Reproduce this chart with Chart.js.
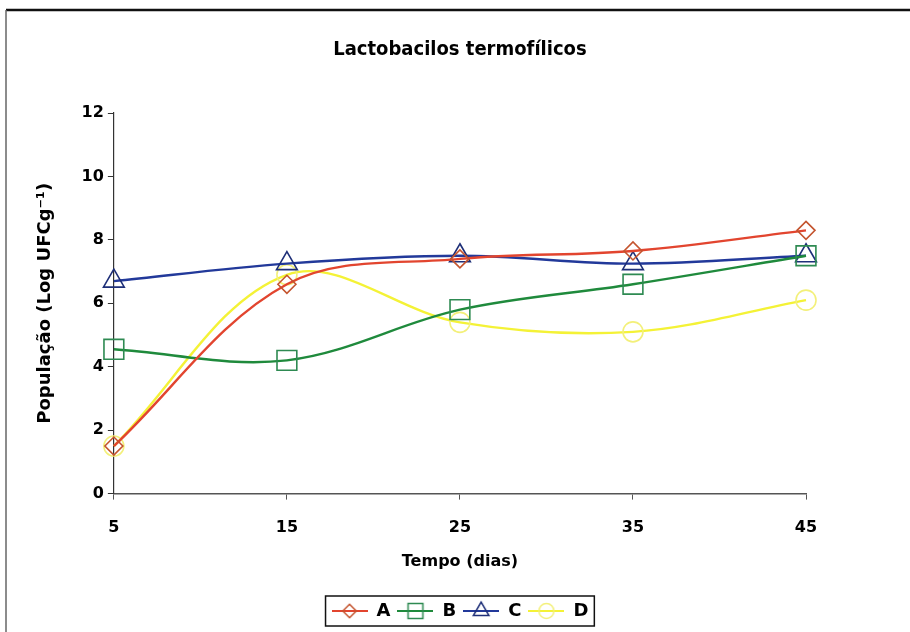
<!DOCTYPE html>
<html>
<head>
<meta charset="utf-8">
<script src="https://cdn.jsdelivr.net/npm/chart.js@4/dist/chart.umd.min.js"></script>
<style>
html,body{margin:0;padding:0;background:#fff;}
#wrap{width:910px;height:632px;position:relative;}
</style>
</head>
<body>
<div id="wrap"><canvas id="c" width="910" height="632"></canvas></div>
<script>
const days = [5, 15, 25, 35, 45];
const seriesNames = ['A', 'B', 'C', 'D'];
const valuesA = [1.5, 6.6, 7.4, 7.65, 8.3];
const valuesB = [4.55, 4.2, 5.8, 6.6, 7.5];
const valuesC = [6.7, 7.25, 7.5, 7.25, 7.5];
const valuesD = [1.5, 6.9, 5.4, 5.1, 6.1];
const yTicks = [0, 2, 4, 6, 8, 10, 12];
const xTicks = [5, 15, 25, 35, 45];

const lineColors = ['#E2452F', '#1F8A3C', '#22399A', '#F4F236'];
const markerColors = ['#C4542E', '#2E8A52', '#1E2F78', '#F3F07A'];
const markerStyles = ['rectRot', 'rect', 'triangle', 'circle'];
const markerRadius = [9, 14, 12, 10];
const allValues = [valuesA, valuesB, valuesC, valuesD];

function legendIcon(i) {
  const cv = document.createElement('canvas');
  cv.width = 36; cv.height = 22;
  const g = cv.getContext('2d');
  g.strokeStyle = lineColors[i];
  g.lineWidth = 2;
  g.beginPath(); g.moveTo(0, 11); g.lineTo(36, 11); g.stroke();
  g.strokeStyle = markerColors[i];
  g.fillStyle = 'rgba(0,0,0,0)';
  g.lineWidth = 1.5;
  Chart.helpers.drawPoint(g, {pointStyle: markerStyles[i], radius: markerRadius[i] * 0.75, rotation: 0, borderWidth: 1.5}, 18, 11);
  return cv;
}

const datasets = seriesNames.map((n, i) => ({
  label: n,
  data: days.map((d, k) => ({x: d, y: allValues[i][k]})),
  borderColor: lineColors[i],
  borderWidth: 2.4,
  tension: 0.35,
  fill: false,
  clip: false,
  pointStyle: markerStyles[i],
  pointRadius: markerRadius[i],
  pointBorderColor: markerColors[i],
  pointBackgroundColor: 'rgba(0,0,0,0)',
  pointBorderWidth: 1.6
}));

const framePlugin = {
  id: 'frame',
  beforeDraw(chart) {
    const ctx = chart.ctx;
    ctx.save();
    ctx.fillStyle = '#fff';
    ctx.fillRect(0, 0, chart.width, chart.height);
    ctx.strokeStyle = '#111';
    ctx.lineWidth = 2.5;
    ctx.beginPath(); ctx.moveTo(6, 10); ctx.lineTo(910, 10); ctx.stroke();
    ctx.strokeStyle = '#666';
    ctx.lineWidth = 1.5;
    ctx.beginPath(); ctx.moveTo(6, 10); ctx.lineTo(6, 632); ctx.stroke();
    ctx.restore();
  },
  afterDraw(chart) {
    const hb = chart.legend && chart.legend.legendHitBoxes;
    if (!hb || !hb.length) return;
    let l = Infinity, r = -Infinity, t = Infinity, b = -Infinity;
    hb.forEach(h => { l = Math.min(l, h.left); r = Math.max(r, h.left + h.width); t = Math.min(t, h.top); b = Math.max(b, h.top + h.height); });
    const ctx = chart.ctx;
    ctx.save();
    ctx.strokeStyle = '#111';
    ctx.lineWidth = 1.5;
    ctx.strokeRect(l - 6, t - 6, r - l + 12, b - t + 12);
    ctx.restore();
  }
};

const FONT = '"DejaVu Sans", sans-serif';
const TFONT = '"DejaVu Sans Condensed", "Liberation Sans Narrow", "DejaVu Sans", sans-serif';

new Chart(document.getElementById('c'), {
  type: 'line',
  data: {datasets},
  plugins: [framePlugin],
  options: {
    responsive: false,
    animation: false,
    devicePixelRatio: 1,
    layout: {padding: {left: 35, right: 104, top: 22, bottom: 2}},
    plugins: {
      title: {
        display: true,
        fullSize: false,
        text: 'Lactobacilos termofílicos',
        color: '#000',
        font: {family: TFONT, size: 20, weight: 'bold'},
        padding: {top: 16, bottom: 51}
      },
      legend: {
        position: 'bottom',
        fullSize: false,
        labels: {
          color: '#000',
          font: {family: FONT, size: 18, weight: 'bold'},
          usePointStyle: true,
          pointStyleWidth: 36,
          boxHeight: 18,
          padding: 7,
          generateLabels(chart) {
            return chart.data.datasets.map((ds, i) => ({
              text: ds.label,
              pointStyle: legendIcon(i),
              fillStyle: 'rgba(0,0,0,0)',
              strokeStyle: 'rgba(0,0,0,0)',
              lineWidth: 0,
              fontColor: '#000',
              datasetIndex: i,
              hidden: false
            }));
          }
        }
      },
      tooltip: {enabled: false}
    },
    scales: {
      x: {
        type: 'linear',
        min: 5, max: 45,
        afterBuildTicks(scale) { scale.ticks = xTicks.map(v => ({value: v})); },
        ticks: {color: '#000', font: {family: FONT, size: 16, weight: 'bold'}, padding: 19},
        grid: {display: true, drawOnChartArea: false, tickLength: 6, color: '#555'},
        border: {color: '#555', width: 1.5},
        title: {display: true, text: 'Tempo (dias)', color: '#000', font: {family: FONT, size: 16, weight: 'bold'}, padding: {top: -5, bottom: 24}}
      },
      y: {
        min: 0, max: 12,
        afterBuildTicks(scale) { scale.ticks = yTicks.map(v => ({value: v})); },
        ticks: {color: '#000', font: {family: FONT, size: 16, weight: 'bold'}, padding: 4},
        grid: {display: true, drawOnChartArea: false, tickLength: 6, color: '#333'},
        border: {color: '#333', width: 1.2},
        title: {display: true, text: 'População (Log UFCg⁻¹)', color: '#000', font: {family: FONT, size: 18, weight: 'bold'}, padding: {top: 0, bottom: 21}}
      }
    }
  }
});
</script>
</body>
</html>
